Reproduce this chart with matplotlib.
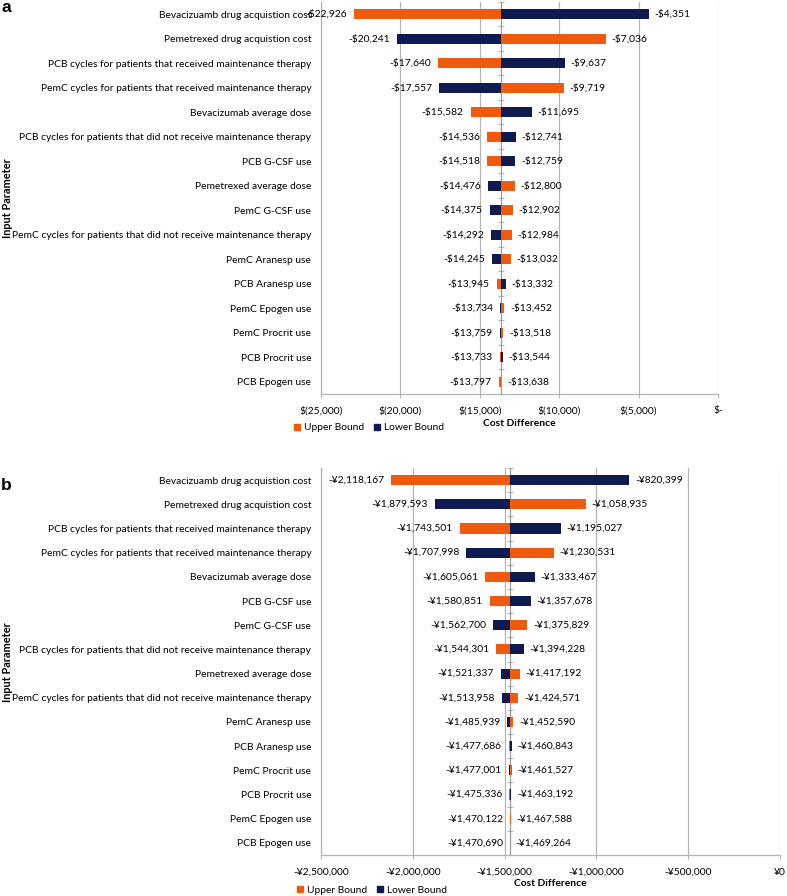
import matplotlib
matplotlib.use("Agg")
import matplotlib.pyplot as plt
from matplotlib.patches import Patch
import numpy as np

plt.rcParams['font.family'] = ['Lato', 'DejaVu Sans']

# ---------------- data ----------------
categories_a = [
    "Bevacizuamb drug acquistion cost",
    "Pemetrexed drug acquistion cost",
    "PCB cycles for patients that received maintenance therapy",
    "PemC cycles for patients that received maintenance therapy",
    "Bevacizumab average dose",
    "PCB cycles for patients that did not receive maintenance therapy",
    "PCB G-CSF use",
    "Pemetrexed average dose",
    "PemC G-CSF use",
    "PemC cycles for patients that did not receive maintenance therapy",
    "PemC Aranesp use",
    "PCB Aranesp use",
    "PemC Epogen use",
    "PemC Procrit use",
    "PCB Procrit use",
    "PCB Epogen use",
]
upper_a = [-22926, -7036, -17640, -9719, -15582, -14536, -14518, -12800,
           -12902, -12984, -13032, -13945, -13452, -13518, -13733, -13797]
lower_a = [-4351, -20241, -9637, -17557, -11695, -12741, -12759, -14476,
           -14375, -14292, -14245, -13332, -13734, -13759, -13544, -13638]
base_a = -13680
ticks_a = [-25000, -20000, -15000, -10000, -5000, 0]
ticklabels_a = ["$(25,000)", "$(20,000)", "$(15,000)", "$(10,000)", "$(5,000)", "$-"]

categories_b = [
    "Bevacizuamb drug acquistion cost",
    "Pemetrexed drug acquistion cost",
    "PCB cycles for patients that received maintenance therapy",
    "PemC cycles for patients that received maintenance therapy",
    "Bevacizumab average dose",
    "PCB G-CSF use",
    "PemC G-CSF use",
    "PCB cycles for patients that did not receive maintenance therapy",
    "Pemetrexed average dose",
    "PemC cycles for patients that did not receive maintenance therapy",
    "PemC Aranesp use",
    "PCB Aranesp use",
    "PemC Procrit use",
    "PCB Procrit use",
    "PemC Epogen use",
    "PCB Epogen use",
]
upper_b = [-2118167, -1058935, -1743501, -1230531, -1605061, -1580851, -1375829,
           -1544301, -1417192, -1424571, -1452590, -1477686, -1461527, -1475336,
           -1467588, -1470690]
lower_b = [-820399, -1879593, -1195027, -1707998, -1333467, -1357678, -1562700,
           -1394228, -1521337, -1513958, -1485939, -1460843, -1477001, -1463192,
           -1470122, -1469264]
base_b = -1469800
ticks_b = [-2500000, -2000000, -1500000, -1000000, -500000, 0]
ticklabels_b = ["-¥2,500,000", "-¥2,000,000", "-¥1,500,000", "-¥1,000,000", "-¥500,000", "¥0"]

ORANGE = "#F05A0C"
NAVY = "#0E1A50"
GRID = "#B4B4B4"
FS = 7.4

W, H = 787, 896
fig = plt.figure(figsize=(W / 100, H / 100), dpi=100)


def px_axes(left, top, right, bottom):
    return fig.add_axes([left / W, 1 - bottom / H, (right - left) / W, (bottom - top) / H])


def panel(ax, cats, upper, lower, base, ticks, ticklabels, fmt):
    n = len(cats)
    y = np.arange(n)
    up = np.array(upper, float)
    lo = np.array(lower, float)
    ax.barh(y, up - base, left=base, height=0.42, color=ORANGE, zorder=3)
    ax.barh(y, lo - base, left=base, height=0.42, color=NAVY, zorder=3)
    ax.set_xlim(ticks[0], ticks[-1])
    ax.set_ylim(n - 0.5, -0.5)
    ax.set_xticks(ticks)
    ax.set_xticklabels(ticklabels, fontsize=FS)
    ax.set_yticks(y)
    ax.set_yticklabels(cats, fontsize=FS)
    ax.tick_params(axis='y', length=0, pad=7)
    ax.tick_params(axis='x', length=3, width=0.8, color=GRID, pad=6)
    ax.grid(axis='x', color=GRID, lw=0.9, zorder=0)
    for s in ['top', 'right']:
        ax.spines[s].set_visible(False)
    for s in ['left', 'bottom']:
        ax.spines[s].set_color(GRID)
        ax.spines[s].set_linewidth(0.9)
    # central category axis at base
    frac = (base - ticks[0]) / (ticks[-1] - ticks[0])
    sec = ax.secondary_yaxis(frac)
    sec.set_yticks(np.arange(n + 1) - 0.5)
    sec.set_yticklabels([])
    sec.tick_params(length=5, width=0.8, color=GRID, direction='inout')
    sec.spines['left'].set_color("#9A9A9A")
    sec.spines['left'].set_linewidth(0.9)
    # data labels
    for i in range(n):
        lv, rv = min(up[i], lo[i]), max(up[i], lo[i])
        ax.annotate(fmt(lv), (lv, i), xytext=(-5, 0), textcoords='offset points',
                    ha='right', va='center', fontsize=FS, zorder=5, annotation_clip=False)
        ax.annotate(fmt(rv), (rv, i), xytext=(4, 0), textcoords='offset points',
                    ha='left', va='center', fontsize=FS, zorder=5, annotation_clip=False)
    ax.set_xlabel("Cost Difference", fontsize=FS, fontweight='bold', labelpad=2)


ax_a = px_axes(321, 2, 718, 394)
panel(ax_a, categories_a, upper_a, lower_a, base_a, ticks_a, ticklabels_a,
      lambda v: "-${:,.0f}".format(abs(v)))

ax_b = px_axes(321, 468, 780, 855)
panel(ax_b, categories_b, upper_b, lower_b, base_b, ticks_b, ticklabels_b,
      lambda v: "-¥{:,.0f}".format(abs(v)))

handles = [Patch(color=ORANGE, label="Upper Bound"), Patch(color=NAVY, label="Lower Bound")]
fig.legend(handles=handles, loc='center', bbox_to_anchor=(369 / W, 1 - 428 / H), ncol=2,
           frameon=False, fontsize=FS, handlelength=0.6, handleheight=0.6,
           handletextpad=0.4, columnspacing=1.0)
fig.legend(handles=handles, loc='center', bbox_to_anchor=(372 / W, 1 - 890 / H), ncol=2,
           frameon=False, fontsize=FS, handlelength=0.6, handleheight=0.6,
           handletextpad=0.4, columnspacing=1.0)

fig.text(8 / W, 1 - 198 / H, "Input Parameter", rotation=90, ha='center', va='center',
         fontsize=7.9, fontweight='bold')
fig.text(8 / W, 1 - 662 / H, "Input Parameter", rotation=90, ha='center', va='center',
         fontsize=7.9, fontweight='bold')
fig.text(1 / W, 1 - 8 / H, "a", fontsize=12.5, fontweight='bold', ha='left', va='center',
         family='Liberation Sans')
fig.text(1 / W, 1 - 485 / H, "b", fontsize=12.5, fontweight='bold', ha='left', va='center',
         family='Liberation Sans')

fig.savefig("out.png", dpi=100)
